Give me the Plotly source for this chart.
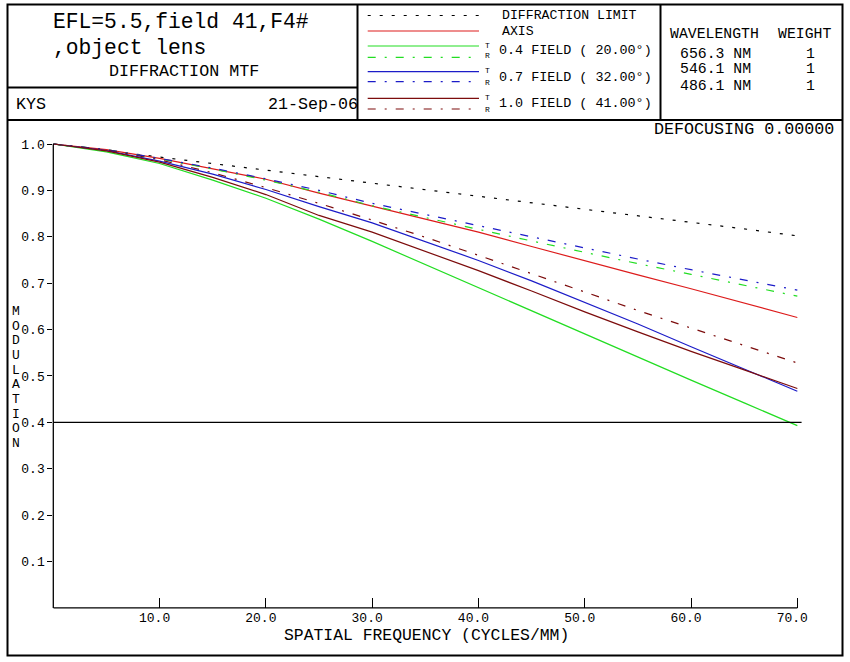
import plotly.graph_objects as go

# ---------------- data ----------------
freq = [0, 5, 10, 15, 20, 25, 30, 35, 40, 45, 50, 55, 60, 65, 70]
diff_limit = [1.0, 0.986, 0.972, 0.958, 0.944, 0.930, 0.916, 0.902, 0.888, 0.874, 0.859, 0.845, 0.831, 0.817, 0.802]
axis_mtf = [1.0, 0.988, 0.969, 0.947, 0.924, 0.894, 0.866, 0.838, 0.810, 0.779, 0.748, 0.718, 0.688, 0.657, 0.626]
f04_t = [1.0, 0.983, 0.958, 0.922, 0.883, 0.838, 0.790, 0.740, 0.690, 0.640, 0.590, 0.540, 0.491, 0.442, 0.393]
f04_r = [1.0, 0.988, 0.968, 0.946, 0.922, 0.896, 0.867, 0.841, 0.816, 0.791, 0.766, 0.742, 0.719, 0.695, 0.672]
f07_t = [1.0, 0.986, 0.963, 0.935, 0.902, 0.865, 0.830, 0.790, 0.749, 0.705, 0.659, 0.612, 0.563, 0.515, 0.467]
f07_r = [1.0, 0.988, 0.969, 0.948, 0.925, 0.900, 0.872, 0.848, 0.824, 0.800, 0.775, 0.752, 0.729, 0.707, 0.685]
f10_t = [1.0, 0.985, 0.961, 0.928, 0.891, 0.846, 0.810, 0.769, 0.727, 0.683, 0.638, 0.595, 0.553, 0.513, 0.473]
f10_r = [1.0, 0.987, 0.966, 0.938, 0.906, 0.872, 0.836, 0.799, 0.760, 0.721, 0.681, 0.641, 0.603, 0.566, 0.528]
threshold = 0.4

x_tick_vals = [10, 20, 30, 40, 50, 60, 70]
x_tick_text = ["10.0", "20.0", "30.0", "40.0", "50.0", "60.0", "70.0"]
y_tick_vals = [0.1, 0.2, 0.3, 0.4, 0.5, 0.6, 0.7, 0.8, 0.9, 1.0]
y_tick_text = ["0.1", "0.2", "0.3", "0.4", "0.5", "0.6", "0.7", "0.8", "0.9", "1.0"]

wavelengths = ["656.3 NM", "546.1 NM", "486.1 NM"]
weights = ["1", "1", "1"]
field_labels = ["0.4 FIELD ( 20.00°)", "0.7 FIELD ( 32.00°)", "1.0 FIELD ( 41.00°)"]

# ---------------- styles ----------------
W, H = 850, 662
FONT = "Liberation Mono"
RED = "#dd1c1c"
GREEN = "#22dd22"
BLUE = "#1c1cc8"
DARKRED = "#7c0c0c"
DOT = "3px,9px"
DASHDOT = "8px,9px,2px,9px"

X0_PX = 53.3
PX_PER_X = 10.629
X_MAX = 71
Y0_PX = 607.9
PX_PER_Y = 463.9
Y_MAX = 1.02


def px(x):
    return x / W


def py(y):
    return 1 - y / H


fig = go.Figure()

series = [
    (diff_limit, "black", DOT),
    (axis_mtf, RED, "solid"),
    (f04_r, GREEN, DASHDOT),
    (f07_r, BLUE, DASHDOT),
    (f10_r, DARKRED, DASHDOT),
    (f04_t, GREEN, "solid"),
    (f07_t, BLUE, "solid"),
    (f10_t, DARKRED, "solid"),
]
for vals, col, dash in series:
    fig.add_trace(go.Scatter(x=freq, y=vals, mode="lines",
                             line=dict(color=col, width=1.2, dash=dash),
                             showlegend=False, hoverinfo="skip"))

shapes = []


def hline(x0, x1, y, width=2, color="black", dash="solid"):
    shapes.append(dict(type="line", xref="paper", yref="paper",
                       x0=px(x0), x1=px(x1), y0=py(y), y1=py(y),
                       line=dict(color=color, width=width, dash=dash)))


def vline(x, y0, y1, width=2):
    shapes.append(dict(type="line", xref="paper", yref="paper",
                       x0=px(x), x1=px(x), y0=py(y0), y1=py(y1),
                       line=dict(color="black", width=width)))


# outer frame and header dividers
shapes.append(dict(type="rect", xref="paper", yref="paper",
                   x0=px(7.5), x1=px(842.5), y0=py(655.5), y1=py(4.5),
                   line=dict(color="black", width=2)))
hline(7.5, 357.5, 87.5)
hline(7.5, 842.5, 120)
vline(357.5, 4.5, 120)
vline(660.5, 4.5, 120)

# axis lines
shapes.append(dict(type="line", xref="paper", yref="y", x0=px(X0_PX), x1=px(X0_PX),
                   y0=0, y1=1.0, line=dict(color="black", width=1.3)))
shapes.append(dict(type="line", xref="x", yref="paper", x0=0, x1=70,
                   y0=py(Y0_PX), y1=py(Y0_PX), line=dict(color="black", width=1.3)))
# threshold line
shapes.append(dict(type="line", xref="x", yref="y", x0=0, x1=70.4,
                   y0=threshold, y1=threshold, line=dict(color="black", width=1.2)))

# legend samples
LX0, LX1 = 367.7, 479
hline(LX0, LX1, 15.5, 1.2, "black", DOT)
hline(LX0, LX1, 31, 1.2, RED)
hline(LX0, LX1, 46, 1.2, GREEN)
hline(LX0, LX1, 57.3, 1.2, GREEN, DASHDOT)
hline(LX0, LX1, 71.7, 1.2, BLUE)
hline(LX0, LX1, 81.7, 1.2, BLUE, DASHDOT)
hline(LX0, LX1, 98.3, 1.2, DARKRED)
hline(LX0, LX1, 109, 1.2, DARKRED, DASHDOT)

annotations = []


def text(t, x, y, size, xanchor="left"):
    annotations.append(dict(text=t, x=px(x), y=py(y), xref="paper", yref="paper",
                            xanchor=xanchor, yanchor="middle", showarrow=False,
                            borderpad=0, font=dict(family=FONT, size=size, color="black")))


text("EFL=5.5,field 41,F4#", 52, 22.5, 21.3)
text(",object lens", 52, 48, 21.3)
text("DIFFRACTION MTF", 108, 71.7, 16.7)
text("KYS", 15, 104.5, 16.7)
text("21-Sep-06", 266.7, 104.5, 16.7)

text("DIFFRACTION LIMIT", 500.5, 15.5, 13.2)
text("AXIS", 500.5, 31, 13.2)
for lab, yc, yt, yr in zip(field_labels, [51, 77.5, 103.7], [45, 71, 97.3], [56, 82.3, 109]):
    text(lab, 498.3, yc, 13.4)
    text("T", 487, yt, 8, "center")
    text("R", 487, yr, 8, "center")

text("WAVELENGTH", 669, 34, 14.8)
text("WEIGHT", 777, 34, 14.8)
for wl, wt, yc in zip(wavelengths, weights, [53.7, 69.5, 85.5]):
    text(wl, 679.3, yc, 14.8)
    text(wt, 810, yc, 14.8, "center")

text("DEFOCUSING 0.00000", 653, 129.5, 16.7)
text("SPATIAL FREQUENCY (CYCLES/MM)", 426.5, 635.5, 16.4, "center")

ylabel = "MODULATION"
for i, ch in enumerate(ylabel):
    text(ch, 16, 311.7 + i * (443.3 - 311.7) / (len(ylabel) - 1), 13, "center")

fig.update_layout(
    width=W, height=H, autosize=False,
    margin=dict(l=0, r=0, t=0, b=0),
    paper_bgcolor="white", plot_bgcolor="white",
    shapes=shapes, annotations=annotations,
    xaxis=dict(domain=[px(X0_PX), px(X0_PX + X_MAX * PX_PER_X)], range=[0, X_MAX],
               tickmode="array", tickvals=x_tick_vals, ticktext=x_tick_text,
               ticks="inside", ticklen=10, tickwidth=1.2, tickcolor="black",
               showgrid=False, zeroline=False, showline=False, ticklabelshift=-5,
               tickfont=dict(family=FONT, size=13, color="black")),
    yaxis=dict(domain=[py(Y0_PX), py(Y0_PX - Y_MAX * PX_PER_Y)], range=[0, Y_MAX],
               tickmode="array", tickvals=y_tick_vals, ticktext=y_tick_text,
               ticks="outside", ticklen=5, tickwidth=1.2, tickcolor="black",
               showgrid=False, zeroline=False, showline=False,
               tickfont=dict(family=FONT, size=13, color="black")),
)

fig.write_html("out.html")
